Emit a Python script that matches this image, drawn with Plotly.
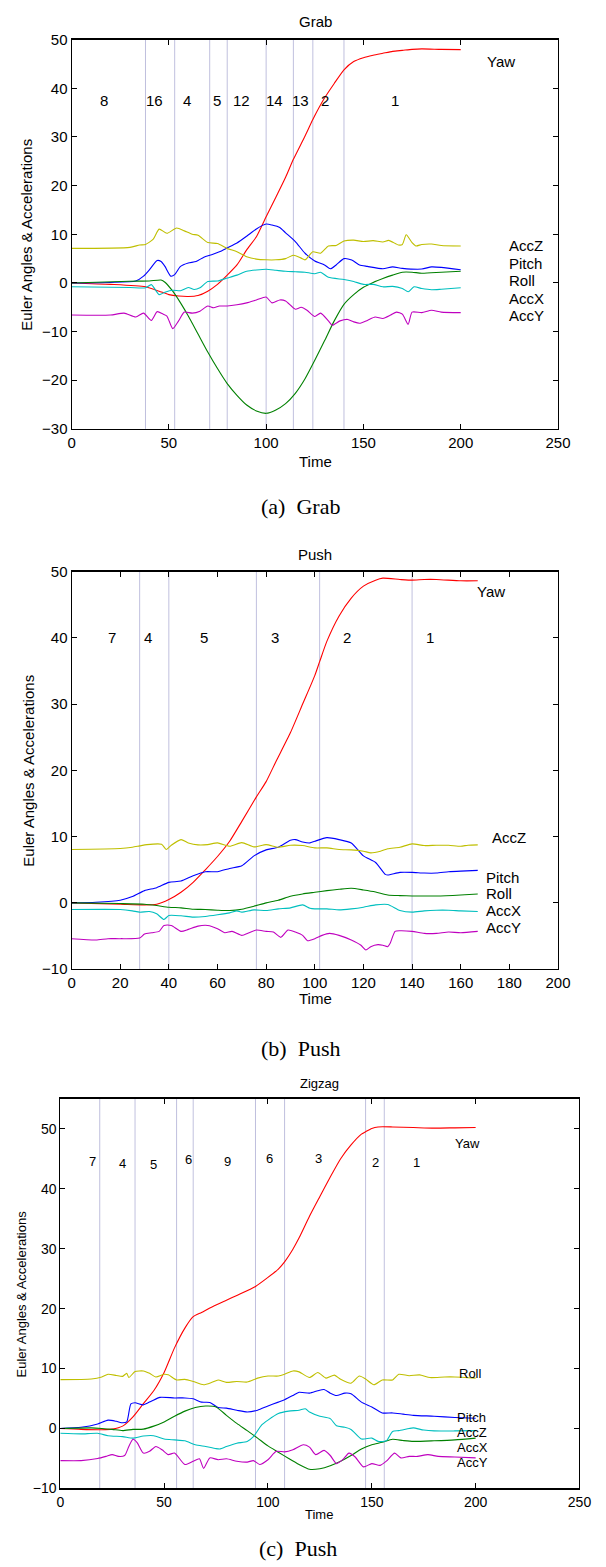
import plotly.graph_objects as go

# ---------------- DATA ----------------
series_names = ["Yaw", "Pitch", "Roll", "AccX", "AccY", "AccZ"]

# Plot (a) Grab
grab_yaw_t = [0,20,38,45,50,55,60,65,70,75,80,85,90,95,100,105,110,114,120,124,130,135,140,145,150,155,160,165,170,175,180,190,200]
grab_yaw = [0,-0.3,-0.8,-1.7,-2.4,-2.7,-2.8,-2.6,-1.7,-0.3,1.6,3.7,6.8,9.5,13.6,17.6,21.7,25.4,30.2,33.6,38.0,41.0,43.8,45.5,46.3,46.8,47.2,47.6,47.8,48.0,48.1,48.0,47.96]
grab_pitch_t = [0,20,33,37,40,44,46,48,51,53,56,60,64,68,72,76,80,85,90,95,100,103,107,110,115,120,125,130,133,136,140,144,148,152,160,165,170,180,185,190,200]
grab_pitch = [0,0.1,0.4,1.4,2.7,4.6,4.4,3.4,1.4,1.7,3.4,4.1,4.4,5.3,5.8,6.4,7.2,8.2,9.6,11.1,12.1,11.9,11.4,10.3,8.5,6.1,4.5,3.7,2.9,3.7,5.0,4.7,3.7,3.4,2.9,3.3,3.0,2.85,3.3,3.2,2.7]
grab_roll_t = [0,30,40,46,48,52,56,60,65,70,75,80,85,90,95,100,105,110,115,120,125,130,135,140,145,150,155,160,165,170,175,180,190,200]
grab_roll = [0,0.35,0.4,0.6,0.15,-1.7,-4.1,-6.8,-10.5,-14.2,-17.6,-20.7,-23.1,-25.1,-26.3,-26.8,-26.1,-24.8,-22.7,-19.7,-15.9,-11.9,-7.8,-4.4,-2.4,-0.9,0.1,0.9,1.6,2.2,2.2,2.0,2.2,2.4]
grab_accx_t = [0,30,38,41,45,48,52,56,60,63,66,70,75,80,85,90,100,105,110,115,120,125,128,132,140,145,150,155,160,165,170,173,176,180,185,190,200]
grab_accx = [-0.8,-0.95,-1.0,-0.35,-2.4,-1.9,-1.5,-1.6,-0.95,-1.35,-1.0,0.3,0.4,1.0,1.6,2.4,2.8,2.6,2.4,2.3,2.2,1.9,2.2,1.15,0.7,0.3,-0.3,-0.3,-0.8,-0.7,-1.15,-1.8,-0.8,-1.15,-1.4,-1.3,-1.0]
grab_accy_t = [0,20,27,33,37,41,44,47,49,52,55,58,62,66,70,73,76,80,85,90,95,100,103,107,110,115,118,121,125,128,132,134,138,142,145,148,152,156,160,164,167,170,173,175,180,185,190,200]
grab_accy = [-6.6,-6.6,-6.2,-7.0,-6.2,-7.7,-5.9,-6.4,-6.8,-9.4,-7.8,-6.0,-6.2,-5.8,-4.75,-5.1,-4.75,-4.75,-4.5,-4.1,-3.5,-2.9,-4.1,-3.5,-3.7,-5.4,-5.0,-5.6,-6.9,-6.2,-7.8,-8.7,-7.8,-7.5,-8.0,-8.3,-7.7,-7.0,-7.3,-6.6,-6.0,-6.4,-8.5,-6.0,-6.1,-5.6,-6.0,-6.1]
grab_accz_t = [0,30,35,38,42,45,49,54,58,62,65,70,75,80,85,90,95,100,105,110,114,118,120,124,128,132,136,140,145,150,155,160,163,168,170,172,175,177,180,185,190,200]
grab_accz = [7.1,7.3,7.8,7.9,9.0,11.06,10.2,11.3,10.7,10.0,9.8,8.3,8.1,7.1,6.4,5.4,4.9,4.75,4.75,5.0,5.7,5.1,4.75,6.4,6.1,7.6,7.7,8.6,8.8,8.5,8.7,8.4,8.75,7.8,7.9,9.9,8.3,7.6,7.9,8.0,7.7,7.6]
grab_bounds = [38,53,71,80,100,114,124,140]
grab_segments = ["8","16","4","5","12","14","13","2","1"]
grab_labels = ["Yaw", "AccZ", "Pitch", "Roll", "AccX", "AccY"]

# Plot (b) Push
push_yaw_t = [0,20,30,35,40,45,50,55,60,65,70,76,80,84,90,95,100,102,105,110,115,120,125,128,135,140,145,150,160,167]
push_yaw = [0,-0.2,-0.3,-0.2,0.5,1.6,3.1,5.0,7.0,9.3,12.3,16.0,18.3,21.3,25.7,30.0,34.3,36.4,39.5,43.3,46.0,47.8,48.7,49.0,48.8,48.7,48.8,48.8,48.6,48.6]
push_pitch_t = [0,10,20,25,30,35,40,45,50,55,60,65,70,75,80,85,90,92,95,98,100,105,110,115,120,125,129,130,135,140,145,150,155,160,167]
push_pitch = [0,0.1,0.4,0.95,1.85,2.3,3.1,3.3,4.1,4.7,4.7,5.2,5.6,7.1,8.0,8.4,9.45,9.55,9.2,9.05,9.3,9.85,9.55,9.05,7.1,6.1,4.3,4.2,4.6,4.6,4.5,4.5,4.7,4.8,4.9]
push_roll_t = [0,20,30,35,40,45,50,55,60,65,70,75,80,85,90,95,100,105,110,115,120,125,130,135,140,150,160,167]
push_roll = [0,-0.1,-0.2,-0.4,-0.65,-0.75,-0.95,-1.0,-1.1,-1.15,-0.95,-0.5,0,0.4,1.0,1.35,1.6,1.85,2.05,2.2,1.95,1.65,1.2,1.1,1.05,1.05,1.2,1.35]
push_accx_t = [0,20,25,28,32,35,38,40,45,50,55,60,65,68,70,75,80,85,90,95,98,100,105,110,115,120,125,130,135,140,145,150,155,160,167]
push_accx = [-1.0,-1.0,-1.2,-1.4,-1.3,-1.65,-2.5,-1.9,-1.95,-2.15,-2.05,-1.8,-1.5,-1.2,-1.4,-1.05,-1.15,-0.9,-0.75,-0.3,-0.8,-0.9,-0.9,-1.05,-0.9,-0.65,-0.3,-0.25,-1.15,-1.4,-1.2,-1.1,-1.1,-1.2,-1.3]
push_accy_t = [0,10,15,20,28,30,33,36,38,41,45,48,52,56,60,63,66,70,73,76,80,83,86,89,92,95,97,100,103,106,110,115,119,121,123,126,128,130,131,133,135,140,145,150,155,160,167]
push_accy = [-5.4,-5.6,-5.4,-5.4,-5.3,-4.7,-4.5,-4.3,-3.4,-3.4,-4.3,-4.0,-3.5,-3.4,-3.9,-4.5,-4.3,-4.9,-4.5,-4.1,-4.3,-4.4,-5.2,-4.1,-4.4,-4.9,-5.7,-5.4,-4.9,-4.6,-4.9,-5.6,-6.4,-7.1,-6.6,-6.3,-6.4,-6.6,-6.1,-4.3,-4.2,-4.3,-4.6,-4.6,-4.4,-4.5,-4.3]
push_accz_t = [0,20,25,28,31,37,39,41,45,48,52,56,60,65,70,75,80,85,90,95,100,105,110,115,120,123,127,130,135,140,145,150,155,160,163,167]
push_accz = [8.06,8.2,8.4,8.6,8.8,8.85,8.06,8.7,9.55,9.05,8.75,8.8,9.05,8.55,9.1,8.45,8.8,8.4,8.7,8.65,8.3,8.3,8.06,8.0,7.8,7.55,7.8,8.16,8.4,8.9,8.65,8.7,8.7,8.55,8.7,8.75]
push_bounds = [28,40,76,102,140]
push_segments = ["7","4","5","3","2","1"]
push_labels = ["Yaw", "AccZ", "Pitch", "Roll", "AccX", "AccY"]

# Plot (c) Zigzag
zig_yaw_t = [0,10,20,25,30,35,40,45,50,55,60,64,68,72,80,85,94,100,105,108,112,115,120,125,130,135,140,145,147,150,153,160,170,180,190,200]
zig_yaw = [0,-0.15,-0.2,-0.1,0.4,1.95,4.15,6.3,9.35,13.45,16.75,18.65,19.35,20.1,21.4,22.2,23.7,25.2,26.6,27.8,29.9,31.8,35.4,38.7,41.95,45.0,47.3,49.1,49.5,50.05,50.3,50.3,50.2,50.1,50.15,50.2]
zig_pitch_t = [0,10,18,23,27,30,32,34,36,40,44,48,55,60,64,68,72,76,80,85,90,95,100,105,108,112,115,120,124,127,130,133,137,140,145,150,155,160,165,170,180,190,200]
zig_pitch = [0,0.2,0.75,1.4,1.2,0.95,1.1,4.1,4.3,3.95,4.6,5.2,5.1,5.1,4.95,4.4,4.35,3.5,3.4,3.05,2.75,3.05,3.75,4.4,4.8,5.5,6.05,5.9,6.3,6.5,5.9,5.5,5.9,5.8,4.4,3.6,2.6,2.6,2.4,2.2,2.05,1.85,1.7]
zig_roll_t = [0,15,20,25,30,35,40,45,50,55,60,65,70,75,80,85,90,95,100,105,110,115,120,125,130,135,140,145,150,155,160,165,170,180,190,200]
zig_roll = [0,0.1,0,-0.15,-0.35,-0.15,-0.1,0.4,1.1,2.05,2.9,3.5,3.75,3.6,2.2,0.85,-0.35,-1.6,-2.9,-3.95,-5.0,-6.0,-6.8,-6.7,-6.2,-5.45,-4.5,-3.4,-2.7,-2.3,-1.8,-2.0,-2.15,-2.05,-1.9,-1.6]
zig_accx_t = [0,10,18,23,30,35,40,45,50,55,60,65,70,75,77,80,85,90,93,97,100,105,110,115,118,120,125,130,133,137,140,145,150,153,157,160,163,168,170,175,180,190,200]
zig_accx = [-0.8,-0.9,-0.8,-1.2,-1.35,-1.6,-1.25,-1.2,-1.75,-1.9,-2.05,-2.7,-3.0,-3.35,-3.4,-3.0,-2.45,-2.15,-1.35,0.6,1.4,2.5,2.9,3.05,3.3,2.75,2.05,1.65,0.45,0.2,-0.15,-1.75,-1.6,-2.15,-2.05,-0.5,-0.35,0,0.1,-0.25,-0.4,-0.4,-0.35]
zig_accy_t = [0,10,18,22,25,28,31,33,35,37,40,43,46,49,52,55,60,64,67,69,72,76,80,85,90,93,96,100,104,108,112,117,120,123,127,130,133,136,139,142,146,150,154,157,161,164,168,172,177,182,190,200]
zig_accy = [-5.35,-5.35,-5.0,-4.65,-4.35,-4.65,-4.5,-3.0,-1.8,-2.35,-4.1,-3.8,-3.0,-3.55,-4.35,-4.1,-6.0,-5.45,-5.05,-6.65,-4.9,-5.2,-5.05,-5.45,-5.6,-5.35,-6.0,-5.2,-3.8,-3.9,-3.55,-2.7,-3.1,-4.35,-3.65,-4.5,-5.85,-5.2,-4.1,-4.75,-6.4,-5.85,-6.15,-5.45,-4.1,-4.9,-4.65,-4.65,-4.35,-4.65,-4.75,-4.9]
zig_accz_t = [0,15,20,23,27,30,32,33,36,40,43,46,50,52,56,60,64,69,73,76,80,85,90,95,100,105,108,112,115,120,124,128,132,135,140,144,147,151,155,160,163,168,173,178,185,190,200]
zig_accz = [8.15,8.25,8.6,9.05,8.85,8.7,9.2,8.5,9.5,9.6,9.2,8.6,9.05,8.95,8.1,8.2,7.85,7.3,7.7,8.1,7.7,7.85,7.75,8.4,8.75,8.75,9.05,9.6,9.45,8.5,9.35,8.4,8.9,8.2,7.55,8.75,8.25,7.3,8.1,8.1,9.05,8.8,8.95,8.5,8.6,8.6,8.4]
zig_bounds = [19,36,56,64,94,108,147,156]
zig_segments = ["7","4","5","6","9","6","3","2","1"]
zig_labels = ["Yaw", "Roll", "Pitch", "AccZ", "AccX", "AccY"]

titles = ["Grab", "Push", "Zigzag"]
captions = ["(a)\u00a0 Grab", "(b)\u00a0 Push", "(c)\u00a0 Push"]
x_title = "Time"
y_title = "Euler Angles & Accelerations"

# ---------------- STYLE / LAYOUT ----------------
W, H = 606, 1567
colors = {"Yaw": "#ff0000", "Pitch": "#0000ff", "Roll": "#008000",
          "AccX": "#00bfbf", "AccY": "#bf00bf", "AccZ": "#bfbf00"}
FONT = "Liberation Sans, Arial, sans-serif"
SERIF = "Liberation Serif, Times New Roman, serif"
BOUND_COLOR = "rgba(150,150,200,0.6)"

panels = [
    dict(px=(69.5, 570), py=(31, 424.5), xr=[0, 250], xd=50, yr=[-30, 50], fs=15, fs_small=15,
         series=[(grab_yaw_t, grab_yaw), (grab_pitch_t, grab_pitch), (grab_roll_t, grab_roll),
                 (grab_accx_t, grab_accx), (grab_accy_t, grab_accy), (grab_accz_t, grab_accz)],
         bounds=grab_bounds, segs=grab_segments,
         seg_x=[16.8, 42.5, 59.5, 74.6, 87.4, 104.4, 117.6, 130, 166], seg_y=[37.5] * 9,
         labels=grab_labels,
         lab_pos=[(212.7, 45.6), (223.7, 7.6), (223.7, 4.05), (223.7, 0.4), (223.7, -3.2), (223.7, -6.65)],
         title_xy=(320, 13), xt_xy=(320, 457), yt_xy=(23, 227.75), cap_xy=(304.7, 503)),
    dict(px=(69.5, 570), py=(568.7, 970.7), xr=[0, 200], xd=20, yr=[-10, 50], fs=15, fs_small=15,
         series=[(push_yaw_t, push_yaw), (push_pitch_t, push_pitch), (push_roll_t, push_roll),
                 (push_accx_t, push_accx), (push_accy_t, push_accy), (push_accz_t, push_accz)],
         bounds=push_bounds, segs=push_segments,
         seg_x=[16.7, 31.4, 54.4, 83.8, 113.2, 147.4], seg_y=[40] * 6,
         labels=push_labels,
         lab_pos=[(166, 47.0), (172.2, 9.85), (169.4, 3.9), (169.4, 1.35), (169.4, -1.2), (169.4, -3.7)],
         title_xy=(320, 551.7), xt_xy=(320, 1000.7), yt_xy=(25, 769.7), cap_xy=(304.7, 1051)),
    dict(px=(57.9, 592.1), py=(1101.7, 1495.7), xr=[0, 250], xd=50, yr=[-10, 55], fs=14, fs_small=13,
         series=[(zig_yaw_t, zig_yaw), (zig_pitch_t, zig_pitch), (zig_roll_t, zig_roll),
                 (zig_accx_t, zig_accx), (zig_accy_t, zig_accy), (zig_accz_t, zig_accz)],
         bounds=zig_bounds, segs=zig_segments,
         seg_x=[15.4, 30.1, 44.9, 61.8, 80.6, 100.7, 124.3, 151.8, 171.7],
         seg_y=[44.5, 44.25, 44.1, 44.8, 44.5, 45.0, 45.0, 44.3, 44.3],
         labels=zig_labels,
         lab_pos=[(189.3, 47.6), (190.8, 9.2), (190.2, 1.8), (190.2, -0.7), (190.2, -3.15), (190.2, -5.6)],
         title_xy=(324.6, 1086.7), xt_xy=(324.6, 1522), yt_xy=(18.4, 1298.7), cap_xy=(302.7, 1556)),
]


def px2x(p):
    return p / W


def px2y(p):
    return 1 - p / H


fig = go.Figure()
annotations = []
shapes = []
layout_axes = {}

for i, P in enumerate(panels):
    k = "" if i == 0 else str(i + 1)
    xa, ya = "x" + k, "y" + k
    for name, (t, v) in zip(series_names, P["series"]):
        fig.add_trace(go.Scatter(x=t, y=v, mode="lines", name=name, xaxis=xa, yaxis=ya,
                                 line=dict(color=colors[name], width=1.1, shape="spline", smoothing=0.6),
                                 showlegend=False, hoverinfo="skip"))
    for b in P["bounds"]:
        shapes.append(dict(type="line", xref=xa, yref=ya, x0=b, x1=b, y0=P["yr"][0], y1=P["yr"][1],
                           line=dict(color=BOUND_COLOR, width=1), layer="below"))
    for s, sx, sy in zip(P["segs"], P["seg_x"], P["seg_y"]):
        annotations.append(dict(text=s, x=sx, y=sy, xref=xa, yref=ya, showarrow=False,
                                xanchor="center", yanchor="middle",
                                font=dict(family=FONT, size=P["fs_small"], color="black")))
    for lab, (lx, ly) in zip(P["labels"], P["lab_pos"]):
        annotations.append(dict(text=lab, x=lx, y=ly, xref=xa, yref=ya, showarrow=False,
                                xanchor="left", yanchor="middle",
                                font=dict(family=FONT, size=P["fs_small"], color="black")))
    tx, ty = P["title_xy"]
    annotations.append(dict(text=titles[i], x=px2x(tx), y=px2y(ty), xref="paper", yref="paper",
                            showarrow=False, xanchor="center", yanchor="middle",
                            font=dict(family=FONT, size=P["fs_small"], color="black")))
    tx, ty = P["xt_xy"]
    annotations.append(dict(text=x_title, x=px2x(tx), y=px2y(ty), xref="paper", yref="paper",
                            showarrow=False, xanchor="center", yanchor="middle",
                            font=dict(family=FONT, size=P["fs_small"], color="black")))
    tx, ty = P["yt_xy"]
    annotations.append(dict(text=y_title, x=px2x(tx), y=px2y(ty), xref="paper", yref="paper",
                            showarrow=False, xanchor="center", yanchor="middle", textangle=-90,
                            font=dict(family=FONT, size=P["fs_small"], color="black")))
    tx, ty = P["cap_xy"]
    annotations.append(dict(text=captions[i], x=px2x(tx), y=px2y(ty), xref="paper", yref="paper",
                            showarrow=False, xanchor="center", yanchor="middle",
                            font=dict(family=SERIF, size=22, color="black")))

    axis_common = dict(showgrid=False, zeroline=False, showline=True, linecolor="black",
                       mirror="ticks", ticks="inside", ticklen=5, tickcolor="black", tickwidth=1,
                       tickfont=dict(family=FONT, size=P["fs"], color="black"), fixedrange=True)
    layout_axes["xaxis" + k] = dict(axis_common, domain=[px2x(P["px"][0]), px2x(P["px"][1])],
                                    range=P["xr"], dtick=P["xd"], tick0=0, anchor=ya, linewidth=1.3)
    layout_axes["yaxis" + k] = dict(axis_common, domain=[px2y(P["py"][1]), px2y(P["py"][0])],
                                    range=P["yr"], dtick=10, tick0=0, anchor=xa, linewidth=1)

fig.update_layout(width=W, height=H, margin=dict(l=0, r=0, t=0, b=0),
                  paper_bgcolor="white", plot_bgcolor="white",
                  annotations=annotations, shapes=shapes, showlegend=False, **layout_axes)

fig.write_html("out.html", config={"displayModeBar": False, "staticPlot": True},
               post_script="document.body.style.margin='0px';document.body.style.overflow='hidden';")
